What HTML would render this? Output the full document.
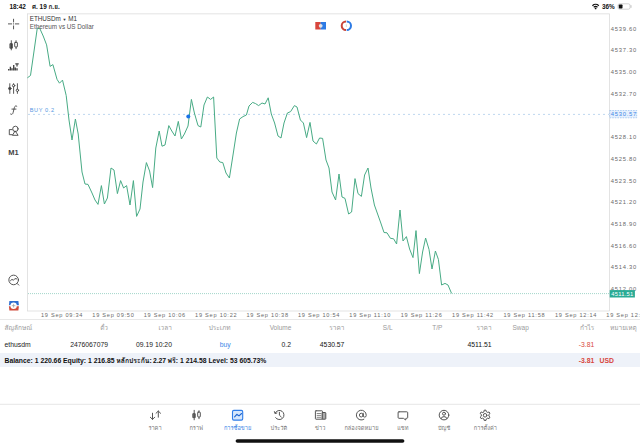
<!DOCTYPE html>
<html lang="th"><head><meta charset="utf-8"><title>MetaTrader</title>
<style>
html,body{margin:0;padding:0;background:#fff;}
body{width:640px;height:447px;position:relative;overflow:hidden;font-family:"Liberation Sans","Loma","Garuda","Noto Sans Thai Looped","Noto Sans Thai","Noto Sans CJK SC",sans-serif;color:#222;}
div{position:absolute;white-space:nowrap;line-height:8px;}
.st{font-size:6.4px;font-weight:bold;color:#111;top:3px;}
.ax{left:610.8px;font-size:5.8px;letter-spacing:.75px;color:#6a6a6a;}
.tm{top:310.7px;font-size:5.6px;letter-spacing:.75px;color:#6a6a6a;}
.th{top:324px;font-size:6.5px;color:#9a9a9a;}
.td{top:340.7px;font-size:6.8px;color:#222;}
.sm{top:356.5px;font-size:6.8px;font-weight:bold;color:#111;}
.r{text-align:right;}
.tab{top:423.6px;width:60px;text-align:center;font-size:5.7px;color:#777;}
svg{position:absolute;left:0;top:0;}
</style></head><body>
<svg width="640" height="447" viewBox="0 0 640 447" fill="none">
<!-- chart frame -->
<path d="M27.5 13.8V311M27 13.8H609.5M609.5 13.8V311M27 311H609.5" stroke="#dcdcdc" stroke-width=".8"/>
<path d="M0 319.5H640" stroke="#e2e2e2" stroke-width=".8"/>
<path d="M0 404.3H640" stroke="#e0e0e0" stroke-width=".8"/>
<!-- order line -->
<path d="M28 114.4H609" stroke="#a3c5ea" stroke-width=".7" stroke-dasharray="2 3"/>
<rect x="609.7" y="110.5" width="27" height="7.3" fill="#e6f0fd" stroke="#6ea7ea" stroke-width=".5" stroke-dasharray="1.6 1"/>
<!-- bid line -->
<path d="M28 293.6H609.5" stroke="#7cc4b3" stroke-width=".7" stroke-dasharray="1 1"/>
<polyline points="27.7,77.6 30.5,75.5 33.9,52 37.3,28 39.8,28.5 43.2,36 46.6,44.9 50.1,66.4 52.9,64.6 57,79.3 59.5,83.2 62.5,80.1 66.2,95.5 69,120 72,140 75.4,119 78.2,134 82,172 85,184 88,184.4 92,193 95,200 98,204.4 101.4,185.6 104.4,204 107.4,198 111,168 114,170 117.4,193.6 120.6,180.6 123.6,188 126.6,185.6 130,205 133.4,180.6 136.6,216.4 140,209 143,182 146.4,162.6 149.6,171 152.6,187.6 155.8,148 159.2,131 162,146.2 165,145 168.8,125.6 171.8,131 175,136 178.3,121.4 181.4,139 184.4,134 188,126 191.4,99.4 194.4,113 198,125.6 200.8,127 204,105 207.4,97 210.6,99.4 213.6,97 216.8,158 219.8,162 222.8,162.6 226,173 229.4,178 233,155 236.4,133 239.6,119 243,116.6 246.4,115 249,106 252.6,102.4 255.6,103.6 258.6,105.6 262,103 265,104 268.2,97.8 271.3,114 274.6,123 278,136 281,138 284,123 287.4,113 290.6,111.6 294.4,105.6 297,107 300.4,120 303.4,123 306.6,137.6 310,122.4 313,141 316.4,144 319.6,138 322.6,138.4 326,160 329,168 332,192 335.6,200 339,174 342,197 345,198.4 348.6,214 351.6,212 355,178.6 358,193.6 361.4,196.4 364.6,175 368,168 371,188 374.4,205 377.6,214 380.8,223 384,232.5 387,232.8 390.4,238.3 393.6,238.8 396.6,244 400,210 403,241 406.4,236.6 409.6,249 413,257.6 416,230.6 419.4,273.6 422.6,252 425.6,238 429,249.4 432,269 435.4,251 438.4,259.4 441.6,285 445,283.4 448,285 451.4,293" stroke="#48ab85" stroke-width="1" stroke-linejoin="round" stroke-linecap="round"/>
<circle cx="188.3" cy="116.5" r="2" fill="#1a73e8"/>
<!-- home indicator -->
<rect x="235.6" y="439.2" width="168.8" height="3.6" rx="1.8" fill="#111"/>
<g stroke="#444" stroke-width=".9" stroke-linecap="round" stroke-linejoin="round" transform="translate(0 .3)">
<!-- crosshair -->
<path d="M8.4 23.6H11.7M15.4 23.6H18.8M13.55 18.9V21.7M13.55 25.6V28.6M13.4 23.6H13.7"/>
<!-- candles left -->
<path d="M11.3 40.4V49.6M16.05 40.4V42.1M16.05 46.7V48.4"/>
<rect x="10.3" y="43.4" width="2" height="4.5" fill="#444"/>
<rect x="14.7" y="42.1" width="2.7" height="4.6" rx=".5"/>
<!-- bars with T -->
<path d="M8.7 70.3V68.6M10.4 70.3V66.5M12 70.3V68M13.7 70.3V64.6M15.3 70.3V67.2M17 70.3V68" stroke-width="1.35" stroke-linecap="butt"/>
<path d="M15.3 63.5H18.7M17 63.5V66.3" stroke-width="1.2" stroke-linecap="butt"/>
<!-- sliders -->
<g transform="translate(0 .5)"><path d="M9.8 82.9V86.5M9.8 88.9V92.6M13.6 82.9V83.6M13.6 86V92.6M17.4 82.9V88.3M17.4 90.7V92.6"/>
<circle cx="9.8" cy="87.7" r="1.2" fill="#444"/>
<circle cx="13.6" cy="84.8" r="1.2"/>
<circle cx="17.4" cy="89.5" r="1.2"/></g>
<!-- f -->
<path d="M16.8 105.9C15.6 105.2 14.7 105.8 14.4 107.2L13.1 112.3C12.8 113.8 11.8 114.6 10.6 113.8M11.9 108.8H16"/>
<!-- shapes -->
<circle cx="15.4" cy="128.6" r="2.7"/>
<path d="M15.4 130.9L18.1 135H12.8Z"/>
<path d="M12 129.3H9.3V134.4H12.2"/>
<!-- magnifier -->
<circle cx="13.65" cy="279.65" r="4.8"/>
<path d="M17.2 283.2L18.8 284.8M10.5 280.4L12 279L13.4 280L14.9 278.3L16.7 278.6"/>
</g>
<!-- colored logo icon bottom-left -->
<path d="M9.4 301H18.4L18.9 305.2H8.9Z" fill="#2f6fd0"/>
<path d="M8.9 306.2H18.9L18.4 310.4H9.4Z" fill="#d04a3a"/>
<circle cx="13.6" cy="305.7" r="3.2" fill="#fff"/>
<path d="M13.6 303.9V307.5M11.8 305.7H15.4" stroke="#9a9a9a" stroke-width=".7"/>
<!-- top-centre icons -->
<rect x="315.3" y="22" width="5.4" height="7.5" fill="#d8463c"/>
<rect x="320.6" y="22" width="5.4" height="7.5" fill="#2d7be5"/>
<circle cx="320.7" cy="25.8" r="1.9" fill="#dfe3e8"/>
<path d="M346 21.5A4.3 4.3 0 0 0 346 30.1" stroke="#c8443a" stroke-width="2"/>
<path d="M346.7 21.5A4.3 4.3 0 0 1 346.7 30.1" stroke="#2d7be5" stroke-width="2"/>
<path d="M346.3 24.3V27" stroke="#bbb" stroke-width=".6"/>
<!-- status: wifi + battery -->
<g stroke="#111" stroke-width="1.25" stroke-linecap="butt">
<path d="M592.4 5.7A4.6 4.6 0 0 1 598.8 5.7M593.7 7.2A2.8 2.8 0 0 1 597.5 7.2"/>
</g>
<circle cx="595.6" cy="8.4" r=".9" fill="#111"/>
<rect x="618" y="3.8" width="12" height="5.4" rx="1.6" stroke="#b5b5b5" stroke-width=".6"/>
<rect x="618.8" y="4.6" width="3.7" height="3.9" rx=".7" fill="#111"/>
<path d="M631 5.6V7.4" stroke="#b5b5b5" stroke-width=".8" stroke-linecap="round"/>
<!-- tab icons -->
<g stroke="#555" stroke-width="1" stroke-linecap="round" stroke-linejoin="round">
<path d="M152.5 413.2V419.3M150.3 417.2L152.5 419.4L154.7 417.2M158.3 417.2V411.1M156 413.3L158.3 411L160.6 413.3"/>
<path d="M194.2 410.3V419.8M199 410.7V412.1M199 417V418.7"/>
<rect x="193.2" y="413.7" width="2" height="3.9" fill="#555"/>
<rect x="197.7" y="412.1" width="2.6" height="4.9" rx=".5"/>
<!-- history -->
<path d="M275.2 413A4.6 4.6 0 1 1 275.6 417.7M274.4 411.6L275 413.5L276.9 413M279.4 412.3V415.2L281.3 417"/>
<!-- news -->
<rect x="315.4" y="410.8" width="7.1" height="8.4" rx=".6"/>
<path d="M322.5 412.5H325.2Q325.8 412.5 325.8 413.1V418.6Q325.8 419.2 325.2 419.2H322.5Z" fill="#aaa"/>
<path d="M317.1 413.5H320.9M317.1 415.4H320.9M317.1 417.3H320.9" stroke-width=".7"/>
<!-- at -->
<circle cx="361.3" cy="415.1" r="1.9"/>
<path d="M363.2 413.2V415.6A1.5 1.5 0 0 0 366.2 415.6V415.1A4.9 4.9 0 1 0 363.9 419.3"/>
<!-- chat -->
<path d="M399 411.8H406.8Q407.7 411.8 407.7 412.7V417.4Q407.7 418.3 406.8 418.3H405.9L405.7 420L403.4 418.3H399Q398.1 418.3 398.1 417.4V412.7Q398.1 411.8 399 411.8Z"/>
<!-- account -->
<circle cx="444" cy="415.1" r="4.8"/>
<circle cx="444" cy="413.7" r="1.5"/>
<path d="M440.9 418.7Q441.5 416.6 444 416.6Q446.5 416.6 447.1 418.7"/>
<!-- gear -->
<circle cx="485.1" cy="415.3" r="1.8"/>
<path d="M483.96 411.57L484.20 410.18L486.00 410.18L486.24 411.57L487.76 412.45L489.08 411.96L489.99 413.52L488.90 414.42L488.90 416.18L489.99 417.08L489.08 418.64L487.76 418.15L486.24 419.03L486.00 420.42L484.20 420.42L483.96 419.03L482.44 418.15L481.12 418.64L480.21 417.08L481.30 416.18L481.30 414.42L480.21 413.52L481.12 411.96L482.44 412.45Z"/>
</g>
<!-- trade tab (active) -->
<rect x="232.5" y="410.4" width="10.2" height="9.7" rx="1.3" fill="#d6e7fc" stroke="#2f7de8" stroke-width="1.1"/>
<path d="M234.6 416.8L236.8 414.3L239 415.9L241.6 413.5" stroke="#1f66d0" stroke-width="1.1" stroke-linecap="round" stroke-linejoin="round"/>

</svg>
<div class="st" style="left:9.4px">18:42</div>
<div class="st" style="left:32px">ศ. 19 ก.ย.</div>
<div class="st" style="left:602px">36%</div>

<div style="left:29.7px;top:15.3px;font-size:6.3px;color:#333">ETHUSDm <span style="font-size:4px;position:relative;top:-.6px">▼</span> M1</div>
<div style="left:29.7px;top:23.3px;font-size:6.3px;color:#555">Ethereum vs US Dollar</div>
<div style="left:29.7px;top:106px;font-size:5.6px;letter-spacing:.6px;color:#5596e2">BUY 0.2</div>
<div style="left:8.3px;top:148.6px;font-size:7.5px;font-weight:bold;color:#444">M1</div>

<div class="ax" style="top:24.7px">4539.60</div>
<div class="ax" style="top:46.4px">4537.30</div>
<div class="ax" style="top:68.1px">4535.00</div>
<div class="ax" style="top:89.8px">4532.70</div>
<div class="ax" style="top:133.2px">4528.10</div>
<div class="ax" style="top:154.9px">4525.80</div>
<div class="ax" style="top:176.6px">4523.50</div>
<div class="ax" style="top:198.3px">4521.20</div>
<div class="ax" style="top:220.0px">4518.90</div>
<div class="ax" style="top:241.7px">4516.60</div>
<div class="ax" style="top:263.4px">4514.30</div>
<div class="ax" style="top:285.1px">4512.00</div>
<div class="ax" style="top:110px;color:#3b86e6">4530.57</div>
<svg width="30" height="10" viewBox="609 289 30 10" style="left:609px;top:289px"><rect x="609.7" y="290.1" width="25.2" height="7.4" fill="#2aab95"/></svg>
<div class="ax" style="top:289.8px;left:611.2px;letter-spacing:.25px;color:#fff">4511.51</div>
<div class="tm" style="left:40.9px">19 Sep 09:34</div>
<div class="tm" style="left:92.3px">19 Sep 09:50</div>
<div class="tm" style="left:143.7px">19 Sep 10:06</div>
<div class="tm" style="left:195.1px">19 Sep 10:22</div>
<div class="tm" style="left:246.5px">19 Sep 10:38</div>
<div class="tm" style="left:297.9px">19 Sep 10:54</div>
<div class="tm" style="left:349.3px">19 Sep 11:10</div>
<div class="tm" style="left:400.7px">19 Sep 11:26</div>
<div class="tm" style="left:452.1px">19 Sep 11:42</div>
<div class="tm" style="left:503.5px">19 Sep 11:58</div>
<div class="tm" style="left:554.9px">19 Sep 12:14</div>
<div class="tm" style="left:606.3px">19 Sep 12:30</div>

<div class="th" style="left:4.5px">สัญลักษณ์</div>
<div class="th r" style="right:532px">ตั๋ว</div>
<div class="th r" style="right:468.1px">เวลา</div>
<div class="th r" style="right:409.4px">ประเภท</div>
<div class="th r" style="right:348.7px">Volume</div>
<div class="th r" style="right:295.6px">ราคา</div>
<div class="th" style="left:382.8px">S/L</div>
<div class="th" style="left:432.2px">T/P</div>
<div class="th r" style="right:148.4px">ราคา</div>
<div class="th" style="left:512.5px">Swap</div>
<div class="th r" style="right:45.7px">กำไร</div>
<div class="th" style="left:610px">หมายเหตุ</div>

<div class="td" style="left:4.5px">ethusdm</div>
<div class="td r" style="right:532px">2476067079</div>
<div class="td r" style="right:468.1px">09.19 10:20</div>
<div class="td r" style="right:409.4px;color:#3b86e6">buy</div>
<div class="td r" style="right:349px">0.2</div>
<div class="td r" style="right:295.6px;color:#111">4530.57</div>
<div class="td r" style="right:148.4px;color:#111">4511.51</div>
<div class="td r" style="right:45.7px;color:#d8463c">-3.81</div>

<div style="left:0;top:352.5px;width:640px;height:14.5px;background:#eef2f9"></div>
<div class="sm" style="left:4.5px">Balance: 1 220.66 Equity: 1 216.85</div>
<div class="sm" style="left:116.3px">หลักประกัน:</div>
<div class="sm" style="left:152.9px">2.27</div>
<div class="sm" style="left:167.5px">ฟรี:</div>
<div class="sm" style="left:180.1px">1 214.58 Level: 53 605.73%</div>
<div class="sm r" style="right:45.7px;color:#d8463c">-3.81</div>
<div class="sm" style="left:599.5px;color:#d8463c">USD</div>

<div class="tab" style="left:125px">ราคา</div>
<div class="tab" style="left:166.3px">กราฟ</div>
<div class="tab" style="left:207.6px;color:#3b86e6">การซื้อขาย</div>
<div class="tab" style="left:248.9px">ประวัติ</div>
<div class="tab" style="left:290.2px">ข่าว</div>
<div class="tab" style="left:331.5px">กล่องจดหมาย</div>
<div class="tab" style="left:372.8px">แชท</div>
<div class="tab" style="left:414.1px">บัญชี</div>
<div class="tab" style="left:455.4px">การตั้งค่า</div>


</body></html>
